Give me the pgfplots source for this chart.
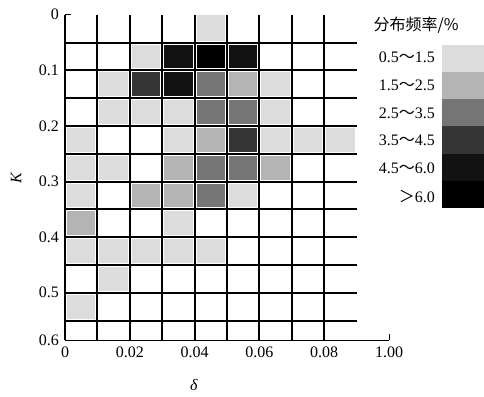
\documentclass[border=0pt]{standalone}
\usepackage{fontspec}
\setmainfont{Liberation Serif}
\newfontfamily\cjk{Noto Sans CJK SC}
\usepackage{pgfplots}
\pgfplotsset{compat=1.18}
\definecolor{lvA}{RGB}{220,220,220}
\definecolor{lvB}{RGB}{180,180,180}
\definecolor{lvC}{RGB}{117,117,117}
\definecolor{lvD}{RGB}{53,53,53}
\definecolor{lvE}{RGB}{18,18,18}
\definecolor{lvF}{RGB}{0,0,0}
\begin{document}
\begin{tikzpicture}[x=1pt,y=1pt]
\useasboundingbox (0,0) rectangle (484,396);
\begin{axis}[
  at={(65pt,56pt)}, anchor=south west,
  scale only axis, width=324pt, height=325.3pt,
  xmin=0, xmax=0.1, ymin=0, ymax=0.585,
  y dir=reverse,
  clip=false,
  axis line style={draw=none},
  tick style={draw=none},
  xtick={0,0.02,0.04,0.06,0.08,0.1},
  xticklabels={0,0.02,0.04,0.06,0.08,1.00},
  ytick={0,0.1,0.2,0.3,0.4,0.5,0.585},
  yticklabels={0,0.1,0.2,0.3,0.4,0.5,0.6},
  tick label style={font=\fontsize{16}{18}\selectfont},
  yticklabel style={xshift=-2.5pt},
  xticklabel style={yshift=-3pt},
  /pgf/number format/assume math mode=true,
  xlabel={\textit{δ}}, ylabel={\textit{K}},
  label style={font=\fontsize{16}{18}\selectfont},
  xlabel style={at={(axis description cs:0.398,-0.138)}, anchor=center},
  ylabel style={at={(axis description cs:-0.151,0.5)}, anchor=center, rotate=0},
  colormap={gmap}{rgb255=(255,255,255) rgb255=(220,220,220) rgb255=(180,180,180) rgb255=(117,117,117) rgb255=(53,53,53) rgb255=(18,18,18) rgb255=(0,0,0)},
  colormap access=direct,
]
\addplot[matrix plot*, mesh/cols=9, point meta=explicit] coordinates {
(0.005,0.025) [0] (0.015,0.025) [0] (0.025,0.025) [0] (0.035,0.025) [0] (0.045,0.025) [1] (0.055,0.025) [0] (0.065,0.025) [0] (0.075,0.025) [0] (0.085,0.025) [0]
(0.005,0.075) [0] (0.015,0.075) [0] (0.025,0.075) [1] (0.035,0.075) [5] (0.045,0.075) [6] (0.055,0.075) [5] (0.065,0.075) [0] (0.075,0.075) [0] (0.085,0.075) [0]
(0.005,0.125) [0] (0.015,0.125) [1] (0.025,0.125) [4] (0.035,0.125) [5] (0.045,0.125) [3] (0.055,0.125) [2] (0.065,0.125) [1] (0.075,0.125) [0] (0.085,0.125) [0]
(0.005,0.175) [0] (0.015,0.175) [1] (0.025,0.175) [1] (0.035,0.175) [1] (0.045,0.175) [3] (0.055,0.175) [3] (0.065,0.175) [1] (0.075,0.175) [0] (0.085,0.175) [0]
(0.005,0.225) [1] (0.015,0.225) [0] (0.025,0.225) [0] (0.035,0.225) [1] (0.045,0.225) [2] (0.055,0.225) [4] (0.065,0.225) [1] (0.075,0.225) [1] (0.085,0.225) [1]
(0.005,0.275) [1] (0.015,0.275) [1] (0.025,0.275) [0] (0.035,0.275) [2] (0.045,0.275) [3] (0.055,0.275) [3] (0.065,0.275) [2] (0.075,0.275) [0] (0.085,0.275) [0]
(0.005,0.325) [1] (0.015,0.325) [0] (0.025,0.325) [2] (0.035,0.325) [2] (0.045,0.325) [3] (0.055,0.325) [1] (0.065,0.325) [0] (0.075,0.325) [0] (0.085,0.325) [0]
(0.005,0.375) [2] (0.015,0.375) [0] (0.025,0.375) [0] (0.035,0.375) [1] (0.045,0.375) [0] (0.055,0.375) [0] (0.065,0.375) [0] (0.075,0.375) [0] (0.085,0.375) [0]
(0.005,0.425) [1] (0.015,0.425) [1] (0.025,0.425) [1] (0.035,0.425) [1] (0.045,0.425) [1] (0.055,0.425) [0] (0.065,0.425) [0] (0.075,0.425) [0] (0.085,0.425) [0]
(0.005,0.475) [0] (0.015,0.475) [1] (0.025,0.475) [0] (0.035,0.475) [0] (0.045,0.475) [0] (0.055,0.475) [0] (0.065,0.475) [0] (0.075,0.475) [0] (0.085,0.475) [0]
(0.005,0.525) [1] (0.015,0.525) [0] (0.025,0.525) [0] (0.035,0.525) [0] (0.045,0.525) [0] (0.055,0.525) [0] (0.065,0.525) [0] (0.075,0.525) [0] (0.085,0.525) [0]
};
% white margins around cells
\pgfplotsinvokeforeach{0,0.01,0.02,0.03,0.04,0.05,0.06,0.07,0.08,0.09}{
  \draw[white, line width=4pt] (axis cs:#1,0) -- (axis cs:#1,0.55);
}
\pgfplotsinvokeforeach{0.05,0.1,0.15,0.2,0.25,0.3,0.35,0.4,0.45,0.5,0.55}{
  \draw[white, line width=4pt] (axis cs:0,#1) -- (axis cs:0.09,#1);
}
% grid lines
\pgfplotsinvokeforeach{0,0.01,0.02,0.03,0.04,0.05,0.06,0.07,0.08}{
  \draw[black, line width=2pt] (axis cs:#1,0) -- (axis cs:#1,0.585);
}
\pgfplotsinvokeforeach{0.05,0.1,0.15,0.2,0.25,0.3,0.35,0.4,0.45,0.5,0.55}{
  \draw[black, line width=2pt] (axis cs:0,#1) -- (axis cs:0.09,#1);
}
% axis line and ticks
\draw[black, line width=1pt] (axis cs:0,0.585) -- (axis cs:0.1,0.585);
\draw[black, line width=1pt] (axis cs:0.1,0.585) -- ++(0,6pt);
\draw[black, line width=1pt] (axis cs:0,0) -- ++(6pt,0);
\end{axis}
% legend
\node[anchor=center, font=\fontsize{16}{18}\selectfont] at (416,371) {\cjk 分布频率/\%};
\fill[lvA] (442,351) rectangle (484,323.8);
\fill[lvB] (442,323.8) rectangle (484,296.7);
\fill[lvC] (442,296.7) rectangle (484,269.5);
\fill[lvD] (442,269.5) rectangle (484,242.3);
\fill[lvE] (442,242.3) rectangle (484,215.2);
\fill[lvF] (442,215.2) rectangle (484,188);
\begin{scope}[every node/.style={anchor=east, font=\fontsize{16}{18}\selectfont, inner sep=0pt}]
\node at (435,338.3) {0.5{\cjk ～}1.5};
\node at (435,311) {1.5{\cjk ～}2.5};
\node at (435,282.7) {2.5{\cjk ～}3.5};
\node at (435,256) {3.5{\cjk ～}4.5};
\node at (435,227.7) {4.5{\cjk ～}6.0};
\node at (435,199.3) {{\cjk ＞}6.0};
\end{scope}
\end{tikzpicture}
\end{document}
